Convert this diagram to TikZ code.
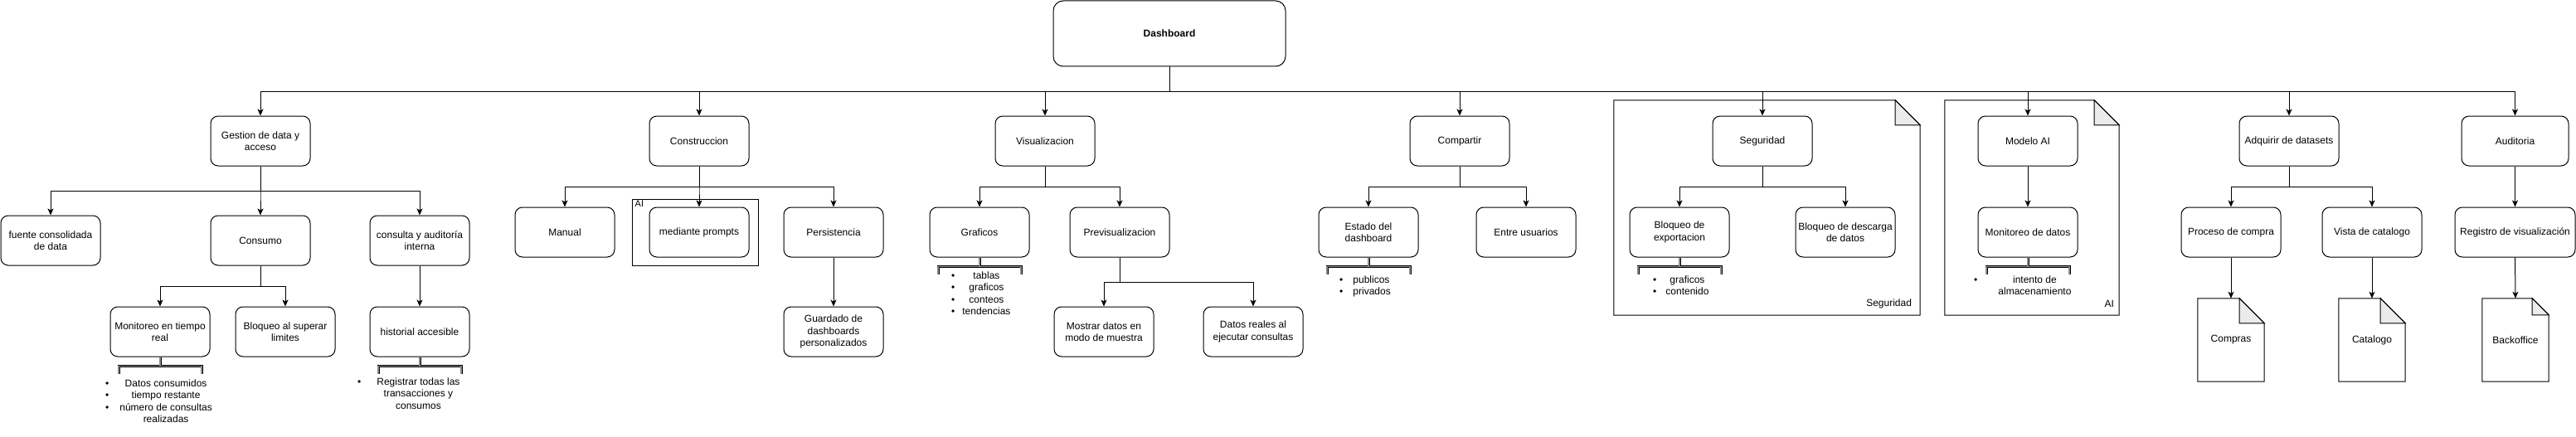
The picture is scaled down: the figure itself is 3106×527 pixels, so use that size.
\documentclass[tikz,border=0pt]{standalone}
\usepackage{fontspec}
\setmainfont{Liberation Sans}
\usetikzlibrary{arrows.meta}
\definecolor{foldGray}{HTML}{EBEBEB}
\definecolor{brkGray}{HTML}{8A8A8A}
% folded-corner outline round an (undrawn) node: #1 node, #2 fold size
\newcommand{\notefold}[2]{%
  \draw[line width=1pt, line join=miter] (#1.north west) -- ([xshift=-#2]#1.north east)
    -- ([yshift=-#2]#1.north east) -- (#1.south east) -- (#1.south west) -- cycle;
  \draw[line width=1pt, fill=foldGray] ([xshift=-#2]#1.north east)
    -- ([xshift=-#2,yshift=-#2]#1.north east) -- ([yshift=-#2]#1.north east) -- cycle;}
% square bracket hanging under a node
\newcommand{\bracketbelow}[1]{%
  \draw[brack] (#1.south) -- ++(0,11) ++(-50,9) -- ++(0,-9) -- ++(100,0) -- ++(0,9);}

\begin{document}
\begin{tikzpicture}[x=1pt, y=-1pt,
    box/.style={draw, line width=1pt, rounded corners=9pt, fill=white,
      minimum width=120pt, minimum height=60pt, align=center,
      inner xsep=1pt, font=\fontsize{12}{14.5}\selectfont},
    doc/.style={minimum width=80pt, minimum height=100pt,
      font=\fontsize{12}{14.5}\selectfont},
    arr/.style={line width=1pt, -{Stealth[length=8pt, width=7pt, inset=2pt]}},
    brack/.style={draw=black, line width=0.7pt, double=brkGray, double distance=1.6pt},
    bullets/.style={anchor=north west, inner sep=0pt, font=\fontsize{12}{14.5}\selectfont}]
		\useasboundingbox (0,0) rectangle (3106,527);
		%-------------------------------------------------------------------------------
		% containers
		%-------------------------------------------------------------------------------
		\node[draw, line width=1pt, minimum width=152pt, minimum height=80pt,
			label={[anchor=north west, inner sep=0pt, xshift=4pt, yshift=-2pt,
			font=\fontsize{11}{13}\selectfont]north west:AI}] (aigrp) at (838,280) {};
		\node[minimum width=369pt, minimum height=259pt,
			label={[anchor=south east, inner sep=0pt, xshift=-10pt, yshift=8pt,
			font=\fontsize{12}{14.5}\selectfont]south east:Seguridad}] (secgrp) at (2130.5,250.5) {};
		\notefold{secgrp}{30pt}
		\node[minimum width=210pt, minimum height=259pt,
			label={[anchor=south east, inner sep=0pt, xshift=-6pt, yshift=10pt,
			font=\fontsize{12}{14.5}\selectfont]south east:AI}] (modgrp) at (2450,250.5) {};
		\notefold{modgrp}{30pt}

		% root
		\node[box, minimum width=280pt, minimum height=79pt, rounded corners=12pt,
			font=\fontsize{12}{14.5}\selectfont\bfseries] (dash) at (1410,40.5) {Dashboard};

		% first level
		\node[box] (gest) at (314,170) {Gestion de data y\\acceso};
		\node[box] (cons) at (843,170) {Construccion};
		\node[box] (visu) at (1260,170) {Visualizacion};
		\node[box] (comp) at (1760,170) {Compartir};
		\node[box] (segu) at (2125,170) {Seguridad};
		\node[box] (model) at (2445,170) {Modelo AI};
		\node[box] (adq) at (2760,170) {Adquirir de datasets};
		\node[box, minimum width=129pt] (audi) at (3032.5,170) {Auditoria};

		% second level
		\node[box] (fuente) at (61,290) {fuente consolidada\\de data};
		\node[box] (consumo) at (314,290) {Consumo};
		\node[box] (consulta) at (506,290) {consulta y auditoría\\interna};
		\node[box] (manual) at (681,280) {Manual};
		\node[box] (prompts) at (843,280) {mediante prompts};
		\node[box] (persist) at (1005,280) {Persistencia};
		\node[box] (graf) at (1181,280) {Graficos};
		\node[box] (previs) at (1350,280) {Previsualizacion};
		\node[box] (estado) at (1650,280) {Estado del\\dashboard};
		\node[box] (entre) at (1840,280) {Entre usuarios};
		\node[box] (bexp) at (2025,280) {Bloqueo de\\exportacion};
		\node[box] (bdesc) at (2225,280) {Bloqueo de descarga\\de datos};
		\node[box] (mondat) at (2445,280) {Monitoreo de datos};
		\node[box] (proc) at (2690,280) {Proceso de compra};
		\node[box] (vista) at (2860,280) {Vista de catalogo};
		\node[box, minimum width=145pt] (regis) at (3032.5,280) {Registro de visualización};

		% third level
		\node[box] (monit) at (193,400) {Monitoreo en tiempo\\real};
		\node[box] (bloq) at (344,400) {Bloqueo al superar\\limites};
		\node[box] (histo) at (506,400) {historial accesible};
		\node[box] (guard) at (1005,400) {Guardado de\\dashboards\\personalizados};
		\node[box] (mostrar) at (1331,400) {Mostrar datos en\\modo de muestra};
		\node[box] (reales) at (1511,400) {Datos reales al\\ejecutar consultas};
		\node[doc] (compras) at (2690,410) {Compras};
		\notefold{compras}{30pt}
		\node[doc] (catal) at (2860,410) {Catalogo};
		\notefold{catal}{30pt}
		\node[doc] (backo) at (3033,410) {Backoffice};
		\notefold{backo}{20pt}

		% trunk
		\draw[arr] (dash.south) -- ++(0,30) -| (gest.north);
		\draw[arr] (dash.south) -- ++(0,30) -| (cons.north);
		\draw[arr] (dash.south) -- ++(0,30) -| (visu.north);
		\draw[arr] (dash.south) -- ++(0,30) -| (comp.north);
		\draw[arr] (dash.south) -- ++(0,30) -| (segu.north);
		\draw[arr] (dash.south) -- ++(0,30) -| (model.north);
		\draw[arr] (dash.south) -- ++(0,30) -| (adq.north);
		\draw[arr] (dash.south) -- ++(0,30) -| (audi.north);
		% gestion
		\draw[arr] (gest.south) -- ++(0,30) -| (fuente.north);
		\draw[arr] (gest.south) -- ++(0,30) -| (consumo.north);
		\draw[arr] (gest.south) -- ++(0,30) -| (consulta.north);
		\draw[arr] (consumo.south) -- ++(0,25) -| (monit.north);
		\draw[arr] (consumo.south) -- ++(0,25) -| (bloq.north);
		\draw[arr] (consulta.south) -- (histo.north);
		% construccion
		\draw[arr] (cons.south) -- ++(0,25) -| (manual.north);
		\draw[arr] (cons.south) -- ++(0,25) -| (prompts.north);
		\draw[arr] (cons.south) -- ++(0,25) -| (persist.north);
		\draw[arr] (persist.south) -- (guard.north);
		% visualizacion
		\draw[arr] (visu.south) -- ++(0,25) -| (graf.north);
		\draw[arr] (visu.south) -- ++(0,25) -| (previs.north);
		\draw[arr] (previs.south) -- ++(0,30) -| (mostrar.north);
		\draw[arr] (previs.south) -- ++(0,30) -| (reales.north);
		% compartir
		\draw[arr] (comp.south) -- ++(0,25) -| (estado.north);
		\draw[arr] (comp.south) -- ++(0,25) -| (entre.north);
		% seguridad
		\draw[arr] (segu.south) -- ++(0,25) -| (bexp.north);
		\draw[arr] (segu.south) -- ++(0,25) -| (bdesc.north);
		% modelo
		\draw[arr] (model.south) -- (mondat.north);
		% adquirir
		\draw[arr] (adq.south) -- ++(0,25) -| (proc.north);
		\draw[arr] (adq.south) -- ++(0,25) -| (vista.north);
		\draw[arr] (proc.south) -- (compras.north);
		\draw[arr] (vista.south) -- (catal.north);
		% auditoria
		\draw[arr] (audi.south) -- (regis.north);
		\draw[arr] (regis.south) -- (backo.north);

		% brackets and lists
		\bracketbelow{monit}
		\node[bullets] (lmonit) at (127,456) {\begin{tabular}{@{}c@{\hspace{13pt}}c@{}}
			\textbullet & Datos consumidos\\ \textbullet & tiempo restante\\
			\textbullet & número de consultas\\ & realizadas\end{tabular}};
		\bracketbelow{histo}
		\node[bullets] (lhisto) at (431,454) {\begin{tabular}{@{}c@{\hspace{19pt}}c@{}}
			\textbullet & Registrar todas las\\ & transacciones y\\ & consumos\end{tabular}};
		\bracketbelow{graf}
		\node[bullets] (lgraf) at (1147,326) {\begin{tabular}{@{}c@{\hspace{9pt}}c@{}}
			\textbullet & tablas\\ \textbullet & graficos\\ \textbullet & conteos\\
			\textbullet & tendencias\end{tabular}};
		\bracketbelow{estado}
		\node[bullets] (lestado) at (1615,331) {\begin{tabular}{@{}c@{\hspace{12pt}}l@{}}
			\textbullet & publicos\\ \textbullet & privados\end{tabular}};
		\bracketbelow{bexp}
		\node[bullets] (lbexp) at (1993,331) {\begin{tabular}{@{}c@{\hspace{11pt}}c@{}}
			\textbullet & graficos\\ \textbullet & contenido\end{tabular}};
		\bracketbelow{mondat}
		\node[bullets] (lmondat) at (2380,331) {\begin{tabular}{@{}c@{\hspace{25pt}}c@{}}
			\textbullet & intento de\\ & almacenamiento\end{tabular}};
\end{tikzpicture}
\end{document}
